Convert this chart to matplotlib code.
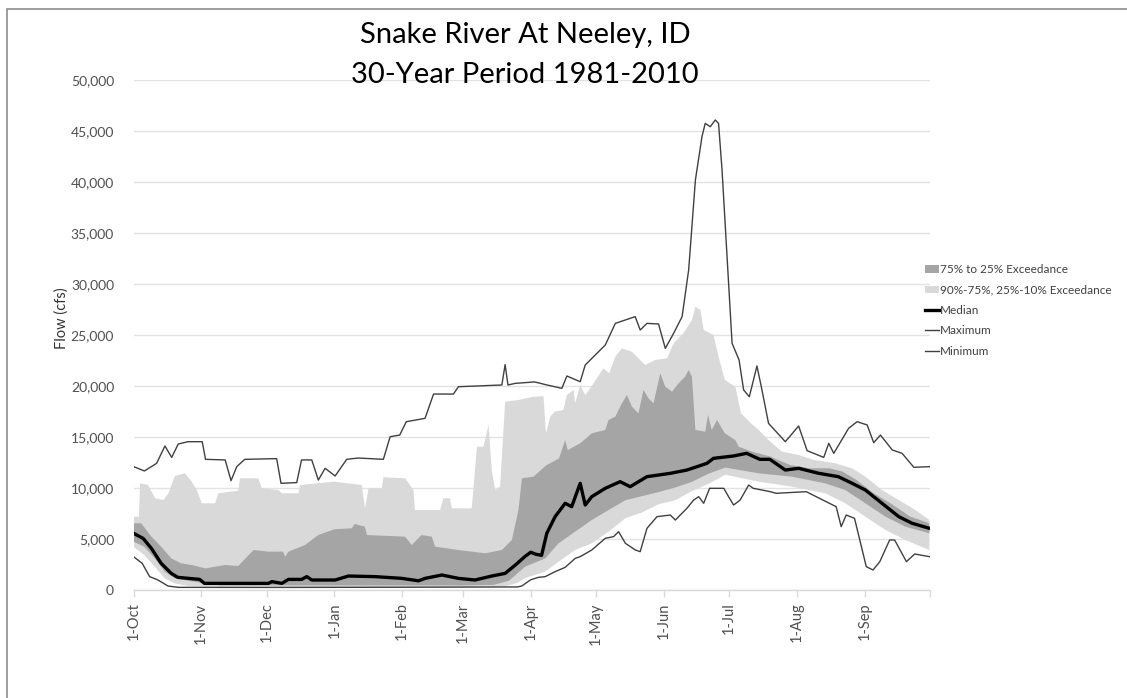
import numpy as np
import matplotlib
matplotlib.use("Agg")
import matplotlib.pyplot as plt
from matplotlib.patches import Patch, Rectangle
from matplotlib.lines import Line2D
from matplotlib.ticker import FuncFormatter

plt.rcParams['font.family'] = ['Lato', 'DejaVu Sans']

# water-year day (0 = 1-Oct) and flow in cfs
month_days = [0, 31, 61, 92, 123, 151, 182, 212, 243, 273, 304, 335]
month_labels = ['1-Oct', '1-Nov', '1-Dec', '1-Jan', '1-Feb', '1-Mar',
                '1-Apr', '1-May', '1-Jun', '1-Jul', '1-Aug', '1-Sep']

max_days = [0, 5, 10.6, 14.4, 17.5, 20.5, 25, 31.5, 33, 42, 44.7, 47.3, 51, 65.6, 67.6, 74.8, 77, 81.7,
            84.7, 87.8, 92.4, 97.7, 103, 114.5, 117.6, 122, 125, 133.6, 137.5, 146.6, 148.9, 168.8,
            170.3, 171.6, 175, 183.8, 189.5, 196.3, 198.6, 204.7, 207, 211.6, 216.2, 220.8, 229.9,
            232.2, 235.3, 240.6, 243.7, 247.5, 251.4, 254.4, 257.5, 260.5, 262, 264.3, 266.6, 268.1,
            269.7, 272, 274.3, 277.5, 279.6, 282.2, 285.7, 288, 291, 298.7, 304.8, 308.7, 316.3,
            318.6, 320.9, 327.7, 331.6, 336.2, 339.2, 342.3, 347.7, 352.2, 357.6, 364.7]
max_cfs = [12100, 11670, 12420, 14120, 13000, 14310, 14540, 14540, 12810, 12750, 10720, 12090, 12810,
           12880, 10460, 10530, 12750, 12750, 10780, 11930, 11180, 12810, 12940, 12810, 15030, 15190,
           16500, 16830, 19210, 19210, 19930, 20100, 22100, 20100, 20260, 20400, 20100, 19770, 20980,
           20420, 22060, 23040, 24020, 26140, 26800, 25490, 26140, 26080, 23690, 25160, 26800, 31370,
           40200, 44440, 45750, 45420, 46080, 45750, 41180, 32680, 24190, 22550, 19610, 18950, 21960,
           19610, 16340, 14540, 16080, 13660, 13000, 14380, 13400, 15850, 16500, 16180, 14440, 15190,
           13730, 13400, 12030, 12090]

min_days = [0, 4, 7.4, 11.2, 15.8, 20.5, 60, 120, 176, 178, 182, 185.6, 188.7, 193.2, 197.8, 202.4,
            204.7, 210, 216.2, 220, 222.3, 225.4, 230, 232.2, 235.3, 239.9, 246, 248.3, 253.6, 256.7,
            259, 261.3, 264, 270.5, 272.7, 275, 278, 281.9, 284, 291.8, 294.5, 308.3, 315.9, 322,
            324.3, 326.6, 330.4, 335.8, 338.9, 342, 346.5, 348.8, 354.2, 358, 364.7]
min_cfs = [3270, 2610, 1310, 980, 390, 260, 250, 270, 300, 400, 1000, 1240, 1310, 1800, 2220, 3100,
           3270, 3920, 5070, 5230, 5720, 4580, 3920, 3760, 6050, 7190, 7350, 6860, 8010, 8820, 9150,
           8500, 9970, 9970, 9150, 8330, 8820, 10290, 9970, 9640, 9480, 9640, 8820, 8170, 6210, 7350,
           7030, 2290, 1960, 2780, 4900, 4900, 2780, 3530, 3270]

median_days = [0, 4.4, 8.2, 12.7, 17.3, 20.3, 30.3, 32.5, 61.8, 63.4, 68, 71, 77, 79.4, 81.7, 92.4,
               98.5, 110.7, 123, 130.6, 133.6, 141.3, 148.9, 156.5, 164.2, 170.3, 175, 179.5, 182,
               184.5, 187, 189.4, 193.2, 197.8, 200.8, 204.7, 207, 210, 216.2, 223, 227.6, 235.3, 246,
               253.6, 262.8, 265.8, 275, 281, 287, 291.6, 298.7, 304.8, 314, 323, 329.3, 335.4, 343,
               350.7, 356.8, 364.7]
median_cfs = [5560, 5060, 4080, 2610, 1630, 1240, 1040, 650, 650, 820, 650, 1040, 1040, 1310, 980, 980,
              1370, 1310, 1140, 900, 1140, 1470, 1140, 980, 1370, 1630, 2450, 3300, 3700, 3500, 3400,
              5560, 7190, 8500, 8170, 10460, 8330, 9150, 9970, 10620, 10130, 11110, 11440, 11760,
              12420, 12910, 13140, 13400, 12810, 12810, 11760, 11930, 11440, 11110, 10460, 9800, 8500,
              7190, 6540, 6050]

p90_days = [0, 2.5, 3, 6.7, 9.9, 13.7, 16, 19, 23.6, 26.7, 29, 31.3, 37.4, 38.9, 48, 48.8, 57.2, 58.8,
            66.4, 68, 75.6, 76.3, 92, 104.6, 106.1, 107.7, 113.8, 114.5, 124.5, 128.3, 129, 140.5, 142,
            145, 145.9, 155, 157.4, 160.4, 162.7, 164.2, 165.7, 168, 170.3, 176.4, 183.3, 187.9, 189,
            191, 193, 197, 198.6, 201.7, 202.4, 204.7, 207, 210, 215.3, 218, 220.8, 223.8, 228.4,
            232.2, 234.5, 239, 244.5, 247.5, 252, 255.9, 257.5, 259.8, 261.3, 265.8, 268.1, 271,
            275.8, 278.4, 283, 286.5, 291, 297.2, 304.8, 311.7, 321.6, 329.3, 335.4, 343, 350.7,
            358.3, 364.7]
p90_cfs = [7190, 7190, 10460, 10300, 8990, 8820, 9480, 11180, 11440, 10620, 9800, 8500, 8500, 9480,
           9740, 10950, 10950, 9970, 9800, 9480, 9480, 10290, 10620, 10290, 8010, 9970, 9970, 11050,
           10950, 9800, 7840, 7840, 8990, 8990, 8010, 8010, 14050, 14050, 16180, 11760, 9800, 10130,
           18460, 18630, 18950, 19000, 15360, 17000, 17490, 17650, 19120, 19610, 18300, 20100, 19120,
           20000, 21730, 21240, 22880, 23690, 23360, 22550, 22060, 22550, 22720, 24190, 25160, 26470,
           27780, 27450, 25490, 25000, 22880, 20590, 19930, 17320, 16340, 15690, 14700, 13560, 13240,
           12750, 12420, 11930, 11110, 9800, 8820, 7840, 6860]

p75_days = [0, 3.5, 8.2, 12.7, 17.3, 21.9, 26.7, 33, 42, 48, 55, 61.8, 68.5, 69.5, 71, 78.6, 84.7, 92,
            100, 101.4, 106, 107, 124.5, 127.5, 132, 136.7, 138.2, 148.9, 161.2, 168.8, 173.4, 176.4,
            178, 183.3, 189, 195, 197.8, 199, 204.7, 210, 216.2, 217.7, 220.8, 223.8, 226.1, 228.4,
            231.4, 233.7, 236, 238.3, 241.4, 243.7, 246.8, 249.8, 252.8, 254.4, 255.9, 257.5, 262,
            263.3, 265, 267.4, 271, 275.8, 277.3, 283.5, 291.6, 300.8, 310, 319, 325, 331.4, 339.2,
            346.9, 356, 364.7]
p75_cfs = [6540, 6540, 5230, 4250, 3100, 2610, 2450, 2120, 2450, 2350, 3920, 3760, 3760, 3270, 3760,
           4410, 5390, 5950, 6050, 6470, 6210, 5390, 5230, 4410, 5390, 5230, 4250, 3920, 3600, 3920,
           4900, 7840, 10950, 11110, 12200, 12900, 14700, 13720, 14380, 15360, 15690, 16670, 17000,
           18300, 19120, 17970, 17320, 19610, 18790, 18300, 21240, 19930, 19450, 20260, 20920, 21570,
           20920, 15690, 15520, 17160, 15690, 16670, 15360, 14700, 14050, 13560, 13100, 12260, 11930,
           11930, 11600, 10780, 9480, 8500, 7190, 6540]

p25_days = [0, 4.9, 9.7, 14.3, 18.9, 25, 32.5, 40, 90, 150, 165, 172, 179.5, 188.7, 194.8, 202.4, 210,
            217.7, 225.4, 233, 240.6, 248.3, 255.9, 263.5, 271.2, 286.5, 301.8, 317, 326.2, 335.4,
            344.6, 353.7, 364.7]
p25_cfs = [4740, 4250, 3100, 1800, 1140, 900, 650, 450, 450, 450, 500, 900, 2290, 3100, 4580, 5720,
           6860, 7840, 8800, 9200, 9600, 10050, 10600, 11400, 12000, 11440, 11110, 10460, 9800, 8500,
           7190, 6210, 5560]

p10_days = [0, 4.9, 9.7, 14.3, 18.9, 25, 40, 90, 150, 170, 176, 179.5, 188.7, 194.8, 202.4, 210, 217.7,
            225.4, 233, 240.6, 248.3, 255.9, 263.5, 271.2, 286.5, 301.8, 317, 326.2, 335.4, 344.6,
            353.7, 364.7]
p10_cfs = [4250, 3430, 2290, 1140, 650, 390, 300, 300, 300, 350, 700, 1180, 1800, 2780, 3920, 4580,
           5720, 7030, 7600, 8400, 8800, 9700, 10400, 11300, 10620, 10130, 9480, 8500, 7190, 5880,
           4900, 3920]

dark_gray = '#a5a5a5'
light_gray = '#d9d9d9'
line_gray = '#404040'

fig = plt.figure(figsize=(11.27, 6.98), dpi=100)
ax = fig.add_axes([133.5 / 1127, 1 - 590 / 698, (930 - 133.5) / 1127, 510 / 698])

# bands: light = 10%..90%, dark = 25%..75% laid on top
ax.fill(np.concatenate([p10_days, p90_days[::-1]]), np.concatenate([p10_cfs, p90_cfs[::-1]]),
        color=light_gray, lw=0, zorder=2)
ax.fill(np.concatenate([p25_days, p75_days[::-1]]), np.concatenate([p25_cfs, p75_cfs[::-1]]),
        color=dark_gray, lw=0, zorder=3)

ax.plot(max_days, max_cfs, color=line_gray, lw=1.0, zorder=4)
ax.plot(min_days, min_cfs, color=line_gray, lw=1.0, zorder=4)
ax.plot(median_days, median_cfs, color='black', lw=2.4, zorder=5)

ax.set_xlim(0, 365)
ax.set_ylim(0, 50000)
ax.set_yticks(np.arange(0, 50001, 5000))
ax.yaxis.set_major_formatter(FuncFormatter(lambda v, p: f'{int(v):,}'))
ax.set_xticks(month_days + [365])
ax.set_xticklabels(month_labels + [''], rotation=90)
ax.grid(axis='y', color='#e3e3e3', lw=1.0, zorder=0)
ax.set_axisbelow(True)
for s in ['top', 'right', 'left']:
    ax.spines[s].set_visible(False)
ax.spines['bottom'].set_color('#d9d9d9')
ax.spines['bottom'].set_linewidth(1.0)
ax.tick_params(axis='y', length=0, pad=14, labelsize=10, labelcolor='#505050')
ax.tick_params(axis='x', length=5, width=1, color='#d9d9d9', pad=4, labelsize=10.5,
               labelcolor='#505050')

fig.text(525 / 1127, 1 - 35 / 698, 'Snake River At Neeley, ID', ha='center', va='center',
         fontsize=21, color='black')
fig.text(525 / 1127, 1 - 75 / 698, '30-Year Period 1981-2010', ha='center', va='center',
         fontsize=21, color='black')
fig.text(62 / 1127, 1 - 318 / 698, 'Flow (cfs)', rotation=90, ha='center', va='center',
         fontsize=10.5, color='#333333')

handles = [Patch(facecolor=dark_gray, edgecolor='none'),
           Patch(facecolor=light_gray, edgecolor='none'),
           Line2D([], [], color='black', lw=2.4),
           Line2D([], [], color=line_gray, lw=1.0),
           Line2D([], [], color=line_gray, lw=1.0)]
labels = ['75% to 25% Exceedance', '90%-75%, 25%-10% Exceedance', 'Median', 'Maximum', 'Minimum']
fig.legend(handles, labels, loc='upper left', bbox_to_anchor=(925 / 1127, 1 - 264 / 698),
           frameon=False, fontsize=8.5, handlelength=1.2, handleheight=0.6, handletextpad=0.1,
           labelspacing=0.8, borderpad=0, borderaxespad=0, labelcolor='#404040')

# outer chart frame (only top and left edges fall inside the image)
fig.patches.append(Rectangle((7 / 1127, -0.2), 1.2, 1.2 - 9 / 698, transform=fig.transFigure,
                             fill=False, edgecolor='#8c8c8c', lw=1.2))

fig.savefig('out.png', dpi=100)
